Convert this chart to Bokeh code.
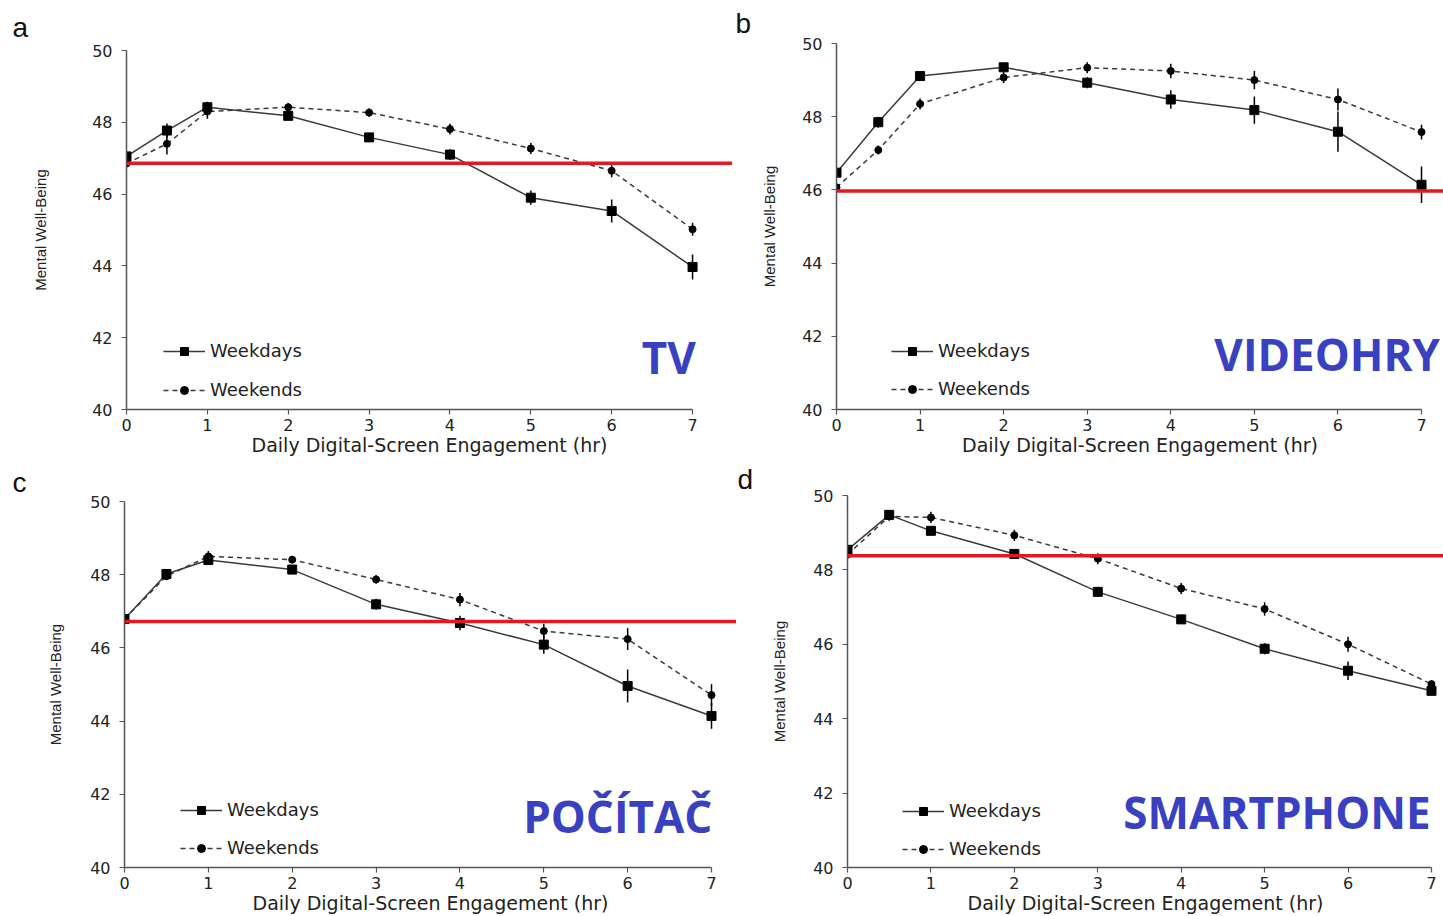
from bokeh.plotting import figure
from bokeh.models import Span, Label, Legend, LegendItem, FixedTicker, Range1d, ColumnDataSource
from bokeh.layouts import column, row
from bokeh.embed import file_html
from bokeh.resources import INLINE

# ---------------- data ----------------
hours = [0, 0.5, 1, 2, 3, 4, 5, 6, 7]
x_ticks = [0, 1, 2, 3, 4, 5, 6, 7]
y_ticks = [40, 42, 44, 46, 48, 50]

tv_weekdays = [47.05, 47.77, 48.42, 48.18, 47.58, 47.10, 45.90, 45.53, 43.97]
tv_weekdays_err = [0.08, 0.20, 0.15, 0.10, 0.12, 0.15, 0.20, 0.32, 0.35]
tv_weekends = [46.85, 47.40, 48.30, 48.42, 48.27, 47.81, 47.27, 46.65, 45.02]
tv_weekends_err = [0.08, 0.30, 0.20, 0.12, 0.12, 0.15, 0.15, 0.18, 0.18]
tv_ref = 46.86

games_weekdays = [46.47, 47.85, 49.11, 49.35, 48.93, 48.47, 48.18, 47.59, 46.14]
games_weekdays_err = [0.08, 0.15, 0.12, 0.10, 0.15, 0.25, 0.37, 0.55, 0.50]
games_weekends = [46.07, 47.09, 48.35, 49.07, 49.34, 49.25, 49.00, 48.47, 47.58]
games_weekends_err = [0.08, 0.12, 0.15, 0.15, 0.15, 0.20, 0.25, 0.30, 0.20]
games_ref = 45.97

pc_weekdays = [46.79, 48.02, 48.40, 48.14, 47.19, 46.68, 46.09, 44.96, 44.14]
pc_weekdays_err = [0.06, 0.10, 0.12, 0.10, 0.15, 0.20, 0.25, 0.45, 0.35]
pc_weekends = [46.79, 47.96, 48.50, 48.41, 47.87, 47.32, 46.46, 46.24, 44.71]
pc_weekends_err = [0.06, 0.10, 0.15, 0.10, 0.12, 0.18, 0.20, 0.30, 0.30]
pc_ref = 46.72

phone_weekdays = [48.54, 49.48, 49.05, 48.43, 47.41, 46.67, 45.88, 45.29, 44.75]
phone_weekdays_err = [0.08, 0.12, 0.12, 0.10, 0.12, 0.12, 0.15, 0.25, 0.12]
phone_weekends = [48.41, 49.44, 49.41, 48.93, 48.30, 47.50, 46.95, 46.00, 44.93]
phone_weekends_err = [0.08, 0.12, 0.15, 0.15, 0.15, 0.15, 0.18, 0.20, 0.10]
phone_ref = 48.38

panel_letters = ["a", "b", "c", "d"]
panel_names = ["TV", "VIDEOHRY", "POČÍTAČ", "SMARTPHONE"]
series_labels = ["Weekdays", "Weekends"]
x_title = "Daily Digital-Screen Engagement (hr)"
y_title = "Mental Well-Being"

# ---------------- styling / layout ----------------
TICK_FONT = "DejaVu Sans"
LINE_COLOR = "#3a3a3a"
RED = "#e3191f"
BLUE = "#3a41c0"


def make_panel(letter, name, wd, wd_err, we, we_err, ref, cfg):
    p = figure(width=cfg["w"], height=cfg["h"], output_backend="svg", toolbar_location=None,
               x_range=Range1d(0, cfg["xend"]), y_range=Range1d(40, 50),
               min_border_left=cfg["bl"], min_border_right=0,
               min_border_top=cfg["bt"], min_border_bottom=cfg["bb"])
    p.outline_line_color = None
    p.grid.visible = False
    p.background_fill_color = "white"
    p.border_fill_color = "white"

    p.title.text = letter
    p.title.align = "left"
    p.title.offset = cfg["toff"]
    p.title.standoff = cfg["tstand"]
    p.title.text_font = "Liberation Sans"
    p.title.text_font_size = "28px"
    p.title.text_font_style = "normal"
    p.title.text_color = "#111111"

    for ax in (p.xaxis[0], p.yaxis[0]):
        ax.axis_line_color = "#555555"
        ax.axis_line_width = 1.5
        ax.major_tick_line_color = "#555555"
        ax.major_tick_line_width = 1.2
        ax.major_tick_in = 0
        ax.major_tick_out = 5
        ax.minor_tick_line_color = None
        ax.major_label_text_font = TICK_FONT
        ax.major_label_text_font_size = "16px"
        ax.major_label_text_color = "#222222"
        ax.axis_label_text_font_style = "normal"
        ax.axis_label_text_color = "#222222"

    p.xaxis.ticker = FixedTicker(ticks=x_ticks)
    p.yaxis.ticker = FixedTicker(ticks=y_ticks)
    p.xaxis.bounds = (0, 7)
    p.yaxis.bounds = (40, 50)
    p.xaxis.major_label_standoff = 4
    p.yaxis.major_label_standoff = 9
    p.xaxis.axis_label = x_title
    p.xaxis.axis_label_text_font = TICK_FONT
    p.xaxis.axis_label_text_font_size = "19px"
    p.xaxis.axis_label_standoff = 0
    p.yaxis.axis_label = y_title
    p.yaxis.axis_label_text_font = "Liberation Sans"
    p.yaxis.axis_label_text_font_size = "15px"
    p.yaxis.axis_label_standoff = cfg["ylab"]

    # reference line
    p.add_layout(Span(location=ref, dimension="width", line_color=RED, line_width=3.5))

    wd_lo = [v - e for v, e in zip(wd, wd_err)]
    wd_hi = [v + e for v, e in zip(wd, wd_err)]
    we_lo = [v - e for v, e in zip(we, we_err)]
    we_hi = [v + e for v, e in zip(we, we_err)]
    src = ColumnDataSource(dict(x=hours, wd=wd, we=we, wd_lo=wd_lo, wd_hi=wd_hi,
                                we_lo=we_lo, we_hi=we_hi))

    p.segment(x0="x", y0="we_lo", x1="x", y1="we_hi", source=src, line_color="black", line_width=1.5)
    p.segment(x0="x", y0="wd_lo", x1="x", y1="wd_hi", source=src, line_color="black", line_width=1.5)

    l_we = p.line("x", "we", source=src, line_color=LINE_COLOR, line_width=1.5, line_dash="5 4")
    m_we = p.scatter("x", "we", source=src, marker="circle", size=7, fill_color="black", line_color="black")
    l_wd = p.line("x", "wd", source=src, line_color=LINE_COLOR, line_width=1.5)
    m_wd = p.scatter("x", "wd", source=src, marker="square", size=9, fill_color="black", line_color="black")

    legend = Legend(items=[LegendItem(label=series_labels[0], renderers=[l_wd, m_wd]),
                           LegendItem(label=series_labels[1], renderers=[l_we, m_we])],
                    location=cfg["leg"], orientation="vertical")
    legend.glyph_width = 42
    legend.glyph_height = 20
    legend.label_height = 20
    legend.spacing = cfg["legsp"]
    legend.padding = 0
    legend.margin = 0
    legend.label_standoff = 5
    legend.border_line_color = None
    legend.background_fill_alpha = 0
    legend.label_text_font = TICK_FONT
    legend.label_text_font_size = "18px"
    legend.label_text_color = "#222222"
    p.add_layout(legend, "center")

    p.add_layout(Label(x=cfg["name_xy"][0], y=cfg["name_xy"][1], text=name,
                       text_font="Open Sans", text_font_style="bold", text_font_size="44px",
                       text_color=BLUE, text_align="right", text_baseline="middle"))
    return p


cfg_a = dict(w=732, h=460, bl=126, bt=50, bb=51, xend=7.494, ylab=40, toff=-114, tstand=16,
             leg=(37, 9), legsp=18, name_xy=(7.04, 41.45))
cfg_b = dict(w=711, h=460, bl=104, bt=43, bb=51, xend=7.263, ylab=21, toff=-101, tstand=9,
             leg=(55, 10), legsp=17, name_xy=(7.22, 41.53))
cfg_c = dict(w=736, h=456, bl=124, bt=41, bb=49, xend=7.298, ylab=23, toff=-112, tstand=7,
             leg=(56, 9), legsp=17, name_xy=(7.01, 41.42))
cfg_d = dict(w=707, h=456, bl=111, bt=35, bb=49, xend=7.144, ylab=22, toff=-110, tstand=1,
             leg=(55, 8), legsp=17, name_xy=(6.99, 41.50))

pa = make_panel(panel_letters[0], panel_names[0], tv_weekdays, tv_weekdays_err,
                tv_weekends, tv_weekends_err, tv_ref, cfg_a)
pb = make_panel(panel_letters[1], panel_names[1], games_weekdays, games_weekdays_err,
                games_weekends, games_weekends_err, games_ref, cfg_b)
pc = make_panel(panel_letters[2], panel_names[2], pc_weekdays, pc_weekdays_err,
                pc_weekends, pc_weekends_err, pc_ref, cfg_c)
pd = make_panel(panel_letters[3], panel_names[3], phone_weekdays, phone_weekdays_err,
                phone_weekends, phone_weekends_err, phone_ref, cfg_d)

layout = column(row(column(pa), column(pb), spacing=0),
                row(column(pc), column(pd), spacing=0), spacing=0)

open("out.html", "w").write(file_html(layout, INLINE))
